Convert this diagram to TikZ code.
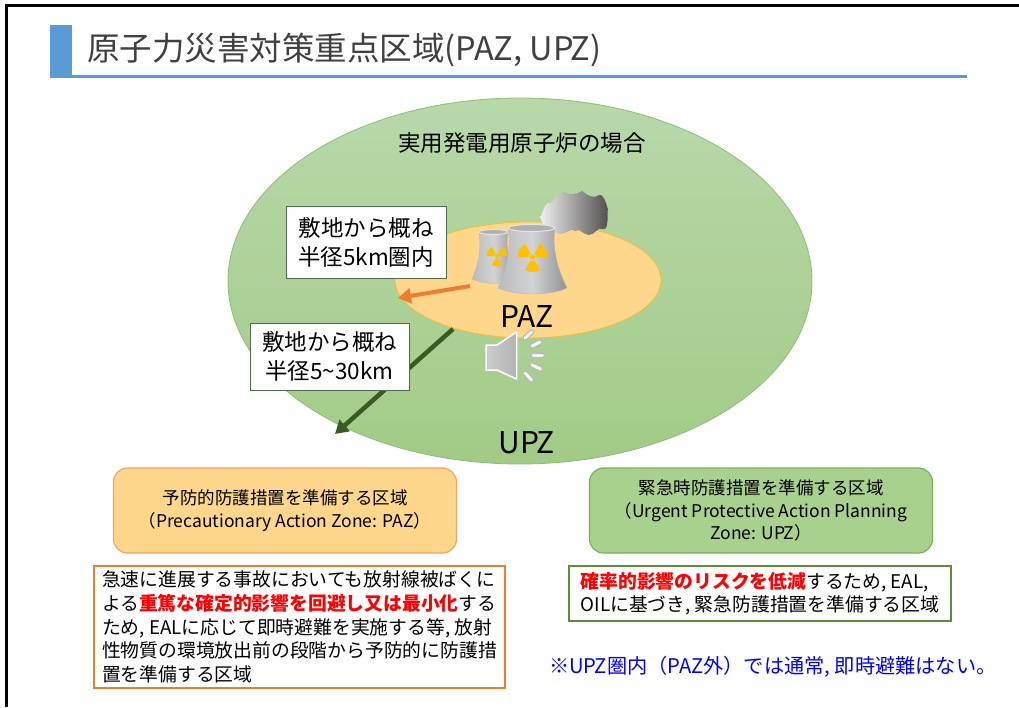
\documentclass[tikz,border=0pt]{standalone}
\usepackage{fontspec}
\setmainfont{Noto Sans CJK JP}
\usetikzlibrary{arrows.meta}

\definecolor{titleblue}{HTML}{5B9BD5}
\definecolor{titlegray}{HTML}{404040}
\definecolor{upztop}{HTML}{B8D8AA}
\definecolor{upzbot}{HTML}{A2CB86}
\definecolor{upzedge}{HTML}{8DBF73}
\definecolor{pazfill}{HTML}{FFD78C}
\definecolor{pazedge}{HTML}{F5C02E}
\definecolor{pazboxedge}{HTML}{F2A460}
\definecolor{orangeline}{HTML}{ED7D31}
\definecolor{greenfill}{HTML}{A9D18E}
\definecolor{greenedge}{HTML}{7BAF5C}
\definecolor{upzdescedge}{HTML}{5E8C3A}
\definecolor{darkgreen}{HTML}{3A5A23}
\definecolor{labeledge}{HTML}{506B4A}
\definecolor{alertred}{HTML}{FF0000}
\definecolor{noteblue}{HTML}{0000FF}
\definecolor{trefoil}{HTML}{FFC000}
\definecolor{towerlight}{HTML}{D2D3D4}
\definecolor{towermid}{HTML}{B9BBBC}
\definecolor{towerdark}{HTML}{8F9193}
\definecolor{smokelight}{HTML}{F0F0F0}
\definecolor{smokemid}{HTML}{9A9898}
\definecolor{smokedark}{HTML}{4E4A4A}

\newcommand{\alert}[1]{{\bfseries\color{alertred}#1}}

\begin{document}
\begin{tikzpicture}[x=1pt,y=-1pt,
  every node/.style={inner sep=0pt,outer sep=0pt},
  labelbox/.style={draw=labeledge,line width=0.8pt,fill=white,align=center,
    font=\fontsize{22.5}{29}\selectfont},
  zonebox/.style={rounded corners=14pt,line width=1.2pt,align=center,
    minimum width=343pt,minimum height=85pt,font=\fontsize{17.5}{23.5}\selectfont},
  descbox/.style={fill=white,line width=2.5pt,align=left,
    font=\fontsize{18.8}{23.8}\selectfont},
  zonelabel/.style={font=\fontsize{30}{34}\selectfont},
  radiusarrow/.style={line width=4.5pt,-{Triangle[length=13pt,width=15pt]}},
  towerbody/.style={left color=towermid,right color=towerdark,middle color=towerlight,
    draw=gray!55,line width=0.4pt},
  towertop/.style={fill=gray!62,draw=gray!20,line width=1pt},
  wavedash/.style={line cap=round,line width=5.5pt,draw=gray!55}
]
\useasboundingbox (0,0) rectangle (1019,707);
\fill[white] (0,0) rectangle (1019,707);

% slide frame
\draw[line width=3pt] (6,707) -- (6,5) -- (1019,5);

% title with accent bar and rule
\fill[titleblue] (50,25) rectangle (72,77);
\fill[titleblue] (50,74.5) rectangle (967,77.5);
\node[anchor=west,text=titlegray,font=\fontsize{32.5}{36}\selectfont] (title) at (87,50)
  {原子力災害対策重点区域(PAZ, UPZ)};

% UPZ zone
\path[draw=upzedge,line width=0.8pt,top color=upztop,bottom color=upzbot]
  (520,281) ellipse [x radius=292,y radius=183];
\node[font=\fontsize{22.5}{26}\selectfont] (case) at (522,143) {実用発電用原子炉の場合};

% PAZ zone
\path[draw=pazedge,line width=0.8pt,fill=pazfill]
  (528,280) ellipse [x radius=133,y radius=58];

% radius arrows
\coordinate (upzfrom) at (453,329);
\coordinate (upzto) at (335,434);
\draw[radiusarrow,draw=darkgreen,fill=darkgreen] (upzfrom) -- (upzto);
\coordinate (pazfrom) at (470,286);
\coordinate (pazto) at (398,298);
\draw[radiusarrow,draw=orangeline,fill=orangeline,line width=4pt] (pazfrom) -- (pazto);

% radius labels
\node[labelbox,minimum width=160pt,minimum height=72pt] (r5) at (366,242)
  {敷地から概ね\\半径5km圏内};
\node[labelbox,minimum width=159pt,minimum height=67pt] (r30) at (329.5,356.5)
  {敷地から概ね\\半径5\textasciitilde30km};

% zone names
\node[zonelabel] (paz) at (527,316) {PAZ};
\node[zonelabel] (upz) at (527,443) {UPZ};

% smoke cloud: one bumpy outline, local frame with y pointing up
\begin{scope}[shift={(574,213)},yscale=-1]
  \path[left color=smokelight,middle color=smokemid,right color=smokedark]
    (-26,-17) to[out=180,in=-90] (-34,-4)
    to[out=90,in=200] (-24,10)
    to[out=110,in=180] (-10,21)
    to[out=30,in=150] (8,22)
    to[out=40,in=140] (25,18)
    to[out=-20,in=80] (34,3)
    to[out=-100,in=20] (29,-16)
    to[out=-150,in=0] (15,-22)
    to[out=180,in=-40] (1,-18)
    to[out=-140,in=0] (-13,-21)
    to[out=180,in=-20] (-26,-17) -- cycle;
\end{scope}

% small cooling tower
\path[towerbody] (479,232) .. controls (482,252) and (477,268) .. (472,279)
  .. controls (485,285) and (505,285) .. (516,279)
  .. controls (511,268) and (505,252) .. (508,232) -- cycle;
\path[towertop] (493.5,232) ellipse [x radius=14.5,y radius=2.5];
\begin{scope}[shift={(497,256)},yscale=-1]
  \foreach \a in {30,150,270}
    \fill[trefoil] (\a-30:3) -- (\a-30:10.5) arc[start angle=\a-30,end angle=\a+30,radius=10.5]
      -- (\a+30:3) arc[start angle=\a+30,end angle=\a-30,radius=3] -- cycle;
  \fill[trefoil] (0,0) circle[radius=2];
\end{scope}

% large cooling tower
\path[towerbody] (508,228) .. controls (512,252) and (504,276) .. (498,288)
  .. controls (515,296) and (551,296) .. (567,288)
  .. controls (561,276) and (551,252) .. (555,228) -- cycle;
\path[towertop] (531.5,228) ellipse [x radius=23.5,y radius=3.5];
\begin{scope}[shift={(532.5,257)},yscale=-1]
  \foreach \a in {30,150,270}
    \fill[trefoil] (\a-30:4) -- (\a-30:15) arc[start angle=\a-30,end angle=\a+30,radius=15]
      -- (\a+30:4) arc[start angle=\a+30,end angle=\a-30,radius=4] -- cycle;
  \fill[trefoil] (0,0) circle[radius=2.7];
\end{scope}

% speaker icon
\path[left color=gray!40,right color=gray!60,draw=white,line width=1.5pt]
  (486,345) -- (497,345) -- (516.5,332) -- (516.5,379) -- (497,370) -- (486,370) -- cycle;
\foreach \p/\q in {{(525,338)}/{(531.5,332)},{(532,346)}/{(540,342)},{(533,355)}/{(542.5,355)},
                   {(532,365)}/{(540.5,369)},{(525,373)}/{(531.5,380)}}{
  \draw[wavedash] \p -- \q;
  \draw[line cap=round,line width=3pt,draw=gray!8] \p -- \q;
}

% zone description boxes
\node[zonebox,draw=pazboxedge,fill=pazfill] (pazbox) at (285,510.5)
  {予防的防護措置を準備する区域\\（Precautionary Action Zone: PAZ）};
\node[zonebox,draw=greenedge,fill=greenfill,font=\fontsize{17.5}{22.5}\selectfont] (upzbox) at (761,510.5)
  {緊急時防護措置を準備する区域\\（Urgent Protective Action Planning\\Zone: UPZ）};

% detailed descriptions
\node[descbox,draw=orangeline,minimum width=411pt,minimum height=122pt] (pazdesc) at (299.5,627)
  {急速に進展する事故においても放射線被ばくに\\
   よる\alert{重篤な確定的影響を回避し又は最小化}する\\
   ため, EALに応じて即時避難を実施する等, 放射\\
   性物質の環境放出前の段階から予防的に防護措\\
   置を準備する区域};
\node[descbox,draw=upzdescedge,minimum width=382pt,minimum height=55pt,
      font=\fontsize{18.8}{23}\selectfont] (upzdesc) at (760,593.5)
  {\alert{確率的影響のリスクを低減}するため, EAL,\\
   OILに基づき, 緊急防護措置を準備する区域};

% note
\node[anchor=west,text=noteblue,font=\fontsize{20.2}{24}\selectfont] (note) at (549,667)
  {※UPZ圏内（PAZ外）では通常, 即時避難はない。};
\end{tikzpicture}
\end{document}
